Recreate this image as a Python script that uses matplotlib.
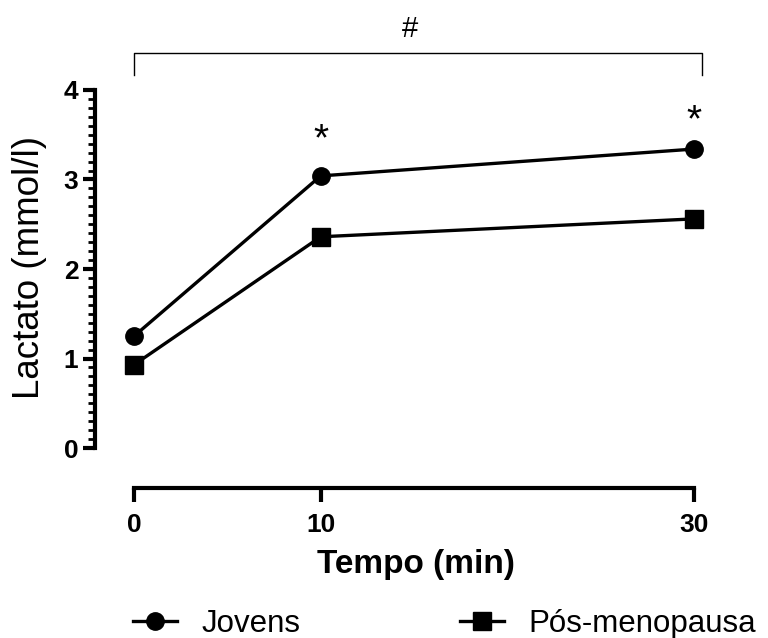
import numpy as np
import matplotlib.pyplot as plt
from matplotlib.lines import Line2D
from matplotlib.ticker import FixedLocator

plt.rcParams['font.family'] = ['Liberation Sans', 'DejaVu Sans']

# dados
tempo = [0, 10, 30]
jovens = [1.25, 3.04, 3.34]
pos_menopausa = [0.93, 2.36, 2.56]
asterisco_x = [10, 30]
asterisco_y = [3.44, 3.65]
yticks = [0, 1, 2, 3, 4]

fig = plt.figure(figsize=(7.68, 6.38), dpi=100)
ax = fig.add_axes([0.1237, 0.235, 0.7917, 0.624])

ax.plot(tempo, jovens, color='k', lw=2.4, marker='o', ms=12.5, clip_on=False, zorder=3)
ax.plot(tempo, pos_menopausa, color='k', lw=2.4, marker='s', ms=12.5, clip_on=False, zorder=3)

for x, y in zip(asterisco_x, asterisco_y):
    ax.text(x, y, '*', ha='center', va='center', fontsize=28)

# colchete de significancia
ax.plot([0, 0, 30.4, 30.4], [4.17, 4.41, 4.41, 4.17], color='k', lw=1, clip_on=False)
ax.text(14.8, 4.68, '#', ha='center', va='center', fontsize=21)

ax.set_xlim(-2.09, 30.48)
ax.set_ylim(-0.447, 4)

for s in ['top', 'right']:
    ax.spines[s].set_visible(False)
ax.spines['left'].set_bounds(0, 4)
ax.spines['bottom'].set_bounds(0, 30)
ax.spines['left'].set_linewidth(3)
ax.spines['bottom'].set_linewidth(3)

ax.set_xticks(tempo)
ax.set_xticklabels([str(t) for t in tempo], fontweight='bold', fontsize=19)
ax.set_yticks(yticks)
ax.set_yticklabels([str(t) for t in yticks], fontweight='bold', fontsize=19)
ax.yaxis.set_minor_locator(FixedLocator(np.arange(0, 4.01, 0.1)))
ax.tick_params(axis='x', which='major', length=10, width=3, pad=8)
ax.tick_params(axis='y', which='major', length=9, width=3, pad=3)
ax.tick_params(axis='y', which='minor', length=5, width=2)

ax.set_ylabel('Lactato (mmol/l)', fontsize=26.5)
ax.yaxis.set_label_coords(-0.079, 0.553)
ax.set_xlabel('Tempo (min)', fontsize=24, fontweight='bold')
ax.xaxis.set_label_coords(0.528, -0.152)

handles = [
    Line2D([], [], color='k', lw=2.4, marker='o', ms=12.5),
    Line2D([], [], color='k', lw=2.4, marker='s', ms=12.5),
]
fig.legend(handles, ['Jovens', 'Pós-menopausa'], ncol=2, frameon=False,
           loc='center left', bbox_to_anchor=(0.173, 0.022), fontsize=22.5,
           handlelength=1.4, handletextpad=0.8, columnspacing=5.1,
           borderpad=0, borderaxespad=0)

fig.savefig('out.png', dpi=100)
